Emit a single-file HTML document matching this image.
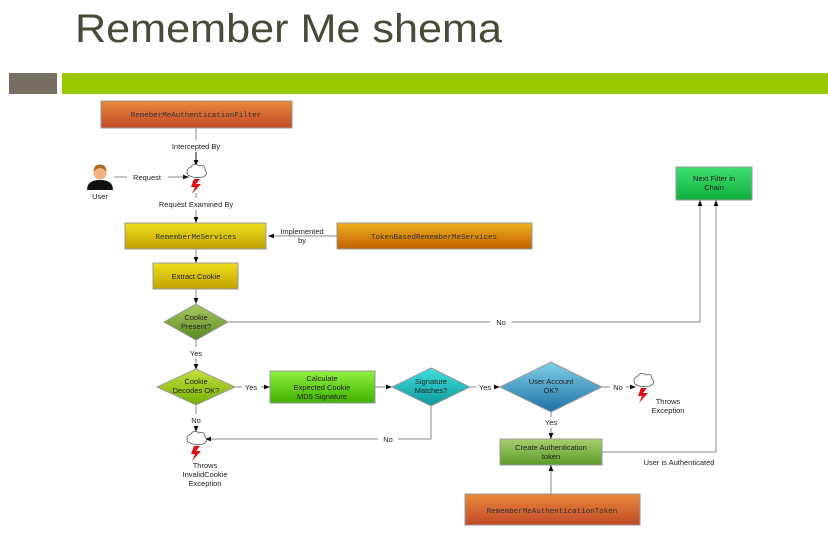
<!DOCTYPE html>
<html><head><style>
body{margin:0;background:#fff;}
svg{display:block;font-family:"Liberation Sans",sans-serif;}
.m{font-family:"Liberation Mono",monospace;font-size:7.5px;fill:#333;}
.t{font-size:7.5px;fill:#222;}
</style></head><body>
<svg width="828" height="534" viewBox="0 0 828 534">
<defs>
<linearGradient id="or" x1="0" y1="0" x2="0" y2="1"><stop offset="0" stop-color="#e8883a"/><stop offset="1" stop-color="#c24a28"/></linearGradient>
<linearGradient id="ye" x1="0" y1="0" x2="0" y2="1"><stop offset="0" stop-color="#f0e020"/><stop offset="1" stop-color="#c0a000"/></linearGradient>
<linearGradient id="oy" x1="0" y1="0" x2="0" y2="1"><stop offset="0" stop-color="#f0b020"/><stop offset="1" stop-color="#c06000"/></linearGradient>
<linearGradient id="gr" x1="0" y1="0" x2="0" y2="1"><stop offset="0" stop-color="#90f040"/><stop offset="1" stop-color="#40b000"/></linearGradient>
<linearGradient id="ng" x1="0" y1="0" x2="0" y2="1"><stop offset="0" stop-color="#40e070"/><stop offset="1" stop-color="#10b040"/></linearGradient>
<linearGradient id="cg" x1="0" y1="0" x2="0" y2="1"><stop offset="0" stop-color="#a8d070"/><stop offset="1" stop-color="#5a9a28"/></linearGradient>
<linearGradient id="d1" x1="0" y1="0" x2="0" y2="1"><stop offset="0" stop-color="#a8c860"/><stop offset="1" stop-color="#5a8a20"/></linearGradient>
<linearGradient id="d2" x1="0" y1="0" x2="0" y2="1"><stop offset="0" stop-color="#c8e040"/><stop offset="1" stop-color="#70b000"/></linearGradient>
<linearGradient id="d3" x1="0" y1="0" x2="0" y2="1"><stop offset="0" stop-color="#40e0e0"/><stop offset="1" stop-color="#109898"/></linearGradient>
<linearGradient id="d4" x1="0" y1="0" x2="0" y2="1"><stop offset="0" stop-color="#80d0e8"/><stop offset="1" stop-color="#2070a8"/></linearGradient>
<marker id="a" viewBox="0 0 10 10" refX="10" refY="5" markerWidth="6" markerHeight="6" orient="auto"><path d="M0,1 L10,5 L0,9z" fill="#111"/></marker>
<g id="cl"><path d="M-8,0 q-3,-6 3,-8 q3,-5 8,-1 q6,-2 6,4 q4,4 -2,7 q-8,2 -15,-2z" fill="#fff" stroke="#555" stroke-width="0.8"/><path d="M-2,4 l6,0 l-4,5 l5,0 l-9,10 l3,-7 l-4,0z" fill="#e01010"/></g>
</defs>
<text x="75" y="42" font-size="40" fill="#4a4a3a" textLength="427" lengthAdjust="spacingAndGlyphs">Remember Me shema</text>
<rect x="9" y="73" width="48" height="21" fill="#776f62"/>
<rect x="62" y="73" width="766" height="21" fill="#99c800"/>

<g stroke="#888" stroke-width="1" fill="none">
<line x1="196" y1="128" x2="196" y2="140"/><line x1="196" y1="152" x2="196" y2="166" stroke="#111" marker-end="url(#a)"/>
<line x1="114" y1="177" x2="127" y2="177"/><line x1="168" y1="177" x2="189" y2="177" marker-end="url(#a)"/>
<line x1="196" y1="193" x2="196" y2="198"/><line x1="196" y1="210" x2="196" y2="223" marker-end="url(#a)"/>
<line x1="337" y1="236" x2="268" y2="236" marker-end="url(#a)"/>
<line x1="196" y1="249" x2="196" y2="263" marker-end="url(#a)"/>
<line x1="196" y1="289" x2="196" y2="304" marker-end="url(#a)"/>
<polyline points="225,322 490,322"/><polyline points="512,322 700,322 700,200" marker-end="url(#a)"/>
<line x1="196" y1="340" x2="196" y2="347"/><line x1="196" y1="358" x2="196" y2="370" marker-end="url(#a)"/>
<line x1="235" y1="387" x2="242" y2="387"/><line x1="261" y1="387" x2="270" y2="387" marker-end="url(#a)"/>
<line x1="375" y1="387" x2="392" y2="387" marker-end="url(#a)"/>
<line x1="470" y1="387" x2="476" y2="387"/><line x1="494" y1="387" x2="500" y2="387" marker-end="url(#a)"/>
<line x1="602" y1="387" x2="610" y2="387"/><line x1="626" y1="387" x2="636" y2="387" marker-end="url(#a)"/>
<line x1="196" y1="404" x2="196" y2="414"/><line x1="196" y1="425" x2="196" y2="432" marker-end="url(#a)"/>
<polyline points="431,405 431,439 398,439"/><line x1="378" y1="439" x2="205" y2="439" marker-end="url(#a)"/>
<line x1="551" y1="411" x2="551" y2="417"/><line x1="551" y1="428" x2="551" y2="439" marker-end="url(#a)"/>
<polyline points="602,452 716,452 716,200" marker-end="url(#a)"/>
<line x1="551" y1="494" x2="551" y2="465" marker-end="url(#a)"/>
</g>

<rect x="101" y="101" width="191" height="27" fill="url(#or)" stroke="#999"/>
<text class="m" x="196" y="117" text-anchor="middle">RemeberMeAuthenticationFilter</text>
<rect x="125" y="223" width="141" height="26" fill="url(#ye)" stroke="#999"/>
<text class="m" x="196" y="239" text-anchor="middle">RememberMeServices</text>
<rect x="337" y="223" width="195" height="26" fill="url(#oy)" stroke="#999"/>
<text class="m" x="434" y="239" text-anchor="middle">TokenBasedRememberMeServices</text>
<rect x="153" y="263" width="85" height="26" fill="url(#ye)" stroke="#999"/>
<text class="t" x="196" y="279" text-anchor="middle">Extract Cookie</text>
<rect x="676" y="167" width="76" height="33" fill="url(#ng)" stroke="#999"/>
<text class="t" x="714" y="181" text-anchor="middle">Next Filter in</text><text class="t" x="714" y="190" text-anchor="middle">Chain</text>

<polygon points="196,304 228,322 196,340 164,322" fill="url(#d1)" stroke="#999"/>
<text class="t" x="196" y="320" text-anchor="middle">Cookie</text><text class="t" x="196" y="329" text-anchor="middle">Present?</text>
<polygon points="196,369 235,387 196,405 157,387" fill="url(#d2)" stroke="#999"/>
<text class="t" x="196" y="384" text-anchor="middle">Cookie</text><text class="t" x="196" y="393" text-anchor="middle">Decodes OK?</text>
<rect x="270" y="371" width="105" height="32" fill="url(#gr)" stroke="#999"/>
<text class="t" x="322" y="381" text-anchor="middle">Calculate</text><text class="t" x="322" y="390" text-anchor="middle">Expected Cookie</text><text class="t" x="322" y="399" text-anchor="middle">MD5 Signature</text>
<polygon points="431,368 470,387 431,406 392,387" fill="url(#d3)" stroke="#999"/>
<text class="t" x="431" y="384" text-anchor="middle">Signature</text><text class="t" x="431" y="393" text-anchor="middle">Matches?</text>
<polygon points="551,362 602,387 551,412 500,387" fill="url(#d4)" stroke="#999"/>
<text class="t" x="551" y="384" text-anchor="middle">User Account</text><text class="t" x="551" y="393" text-anchor="middle">OK?</text>
<rect x="500" y="439" width="102" height="26" fill="url(#cg)" stroke="#999"/>
<text class="t" x="551" y="450" text-anchor="middle">Create Authentication</text><text class="t" x="551" y="459" text-anchor="middle">token</text>
<rect x="465" y="494" width="175" height="31" fill="url(#or)" stroke="#999"/>
<text class="m" x="552" y="513" text-anchor="middle">RememberMeAuthenticationToken</text>

<g class="t" text-anchor="middle">
<text class="t" x="196" y="149">Intercepted By</text>
<text class="t" x="147" y="180">Request</text>
<text class="t" x="100" y="199">User</text>
<text class="t" x="196" y="207">Request Examined By</text>
<text class="t" x="302" y="234">Implemented</text><text class="t" x="302" y="243">by</text>
<text class="t" x="501" y="325">No</text>
<text class="t" x="196" y="356">Yes</text>
<text class="t" x="251" y="390">Yes</text>
<text class="t" x="485" y="390">Yes</text>
<text class="t" x="618" y="390">No</text>
<text class="t" x="668" y="404">Throws</text><text class="t" x="668" y="413">Exception</text>
<text class="t" x="196" y="423">No</text>
<text class="t" x="388" y="442">No</text>
<text class="t" x="551" y="425">Yes</text>
<text class="t" x="679" y="465">User is Authenticated</text>
<text class="t" x="205" y="468">Throws</text><text class="t" x="205" y="477">InvalidCookie</text><text class="t" x="205" y="486">Exception</text>
</g>
<use href="#cl" x="196" y="175"/>
<use href="#cl" x="643" y="384"/>
<use href="#cl" x="196" y="442"/>
<g transform="translate(100,178)">
<path d="M-13,12 q0,-10 13,-10 q13,0 13,10z" fill="#111"/>
<circle cx="0" cy="-5" r="6.5" fill="#f4b080"/>
<path d="M-6.5,-6 q0,-7.5 6.5,-7.5 q6.5,0 6.5,7.5 q-3,-4 -6.5,-4 q-3.5,0 -6.5,4z" fill="#b06a20"/>
</g>
</svg>
</body></html>
